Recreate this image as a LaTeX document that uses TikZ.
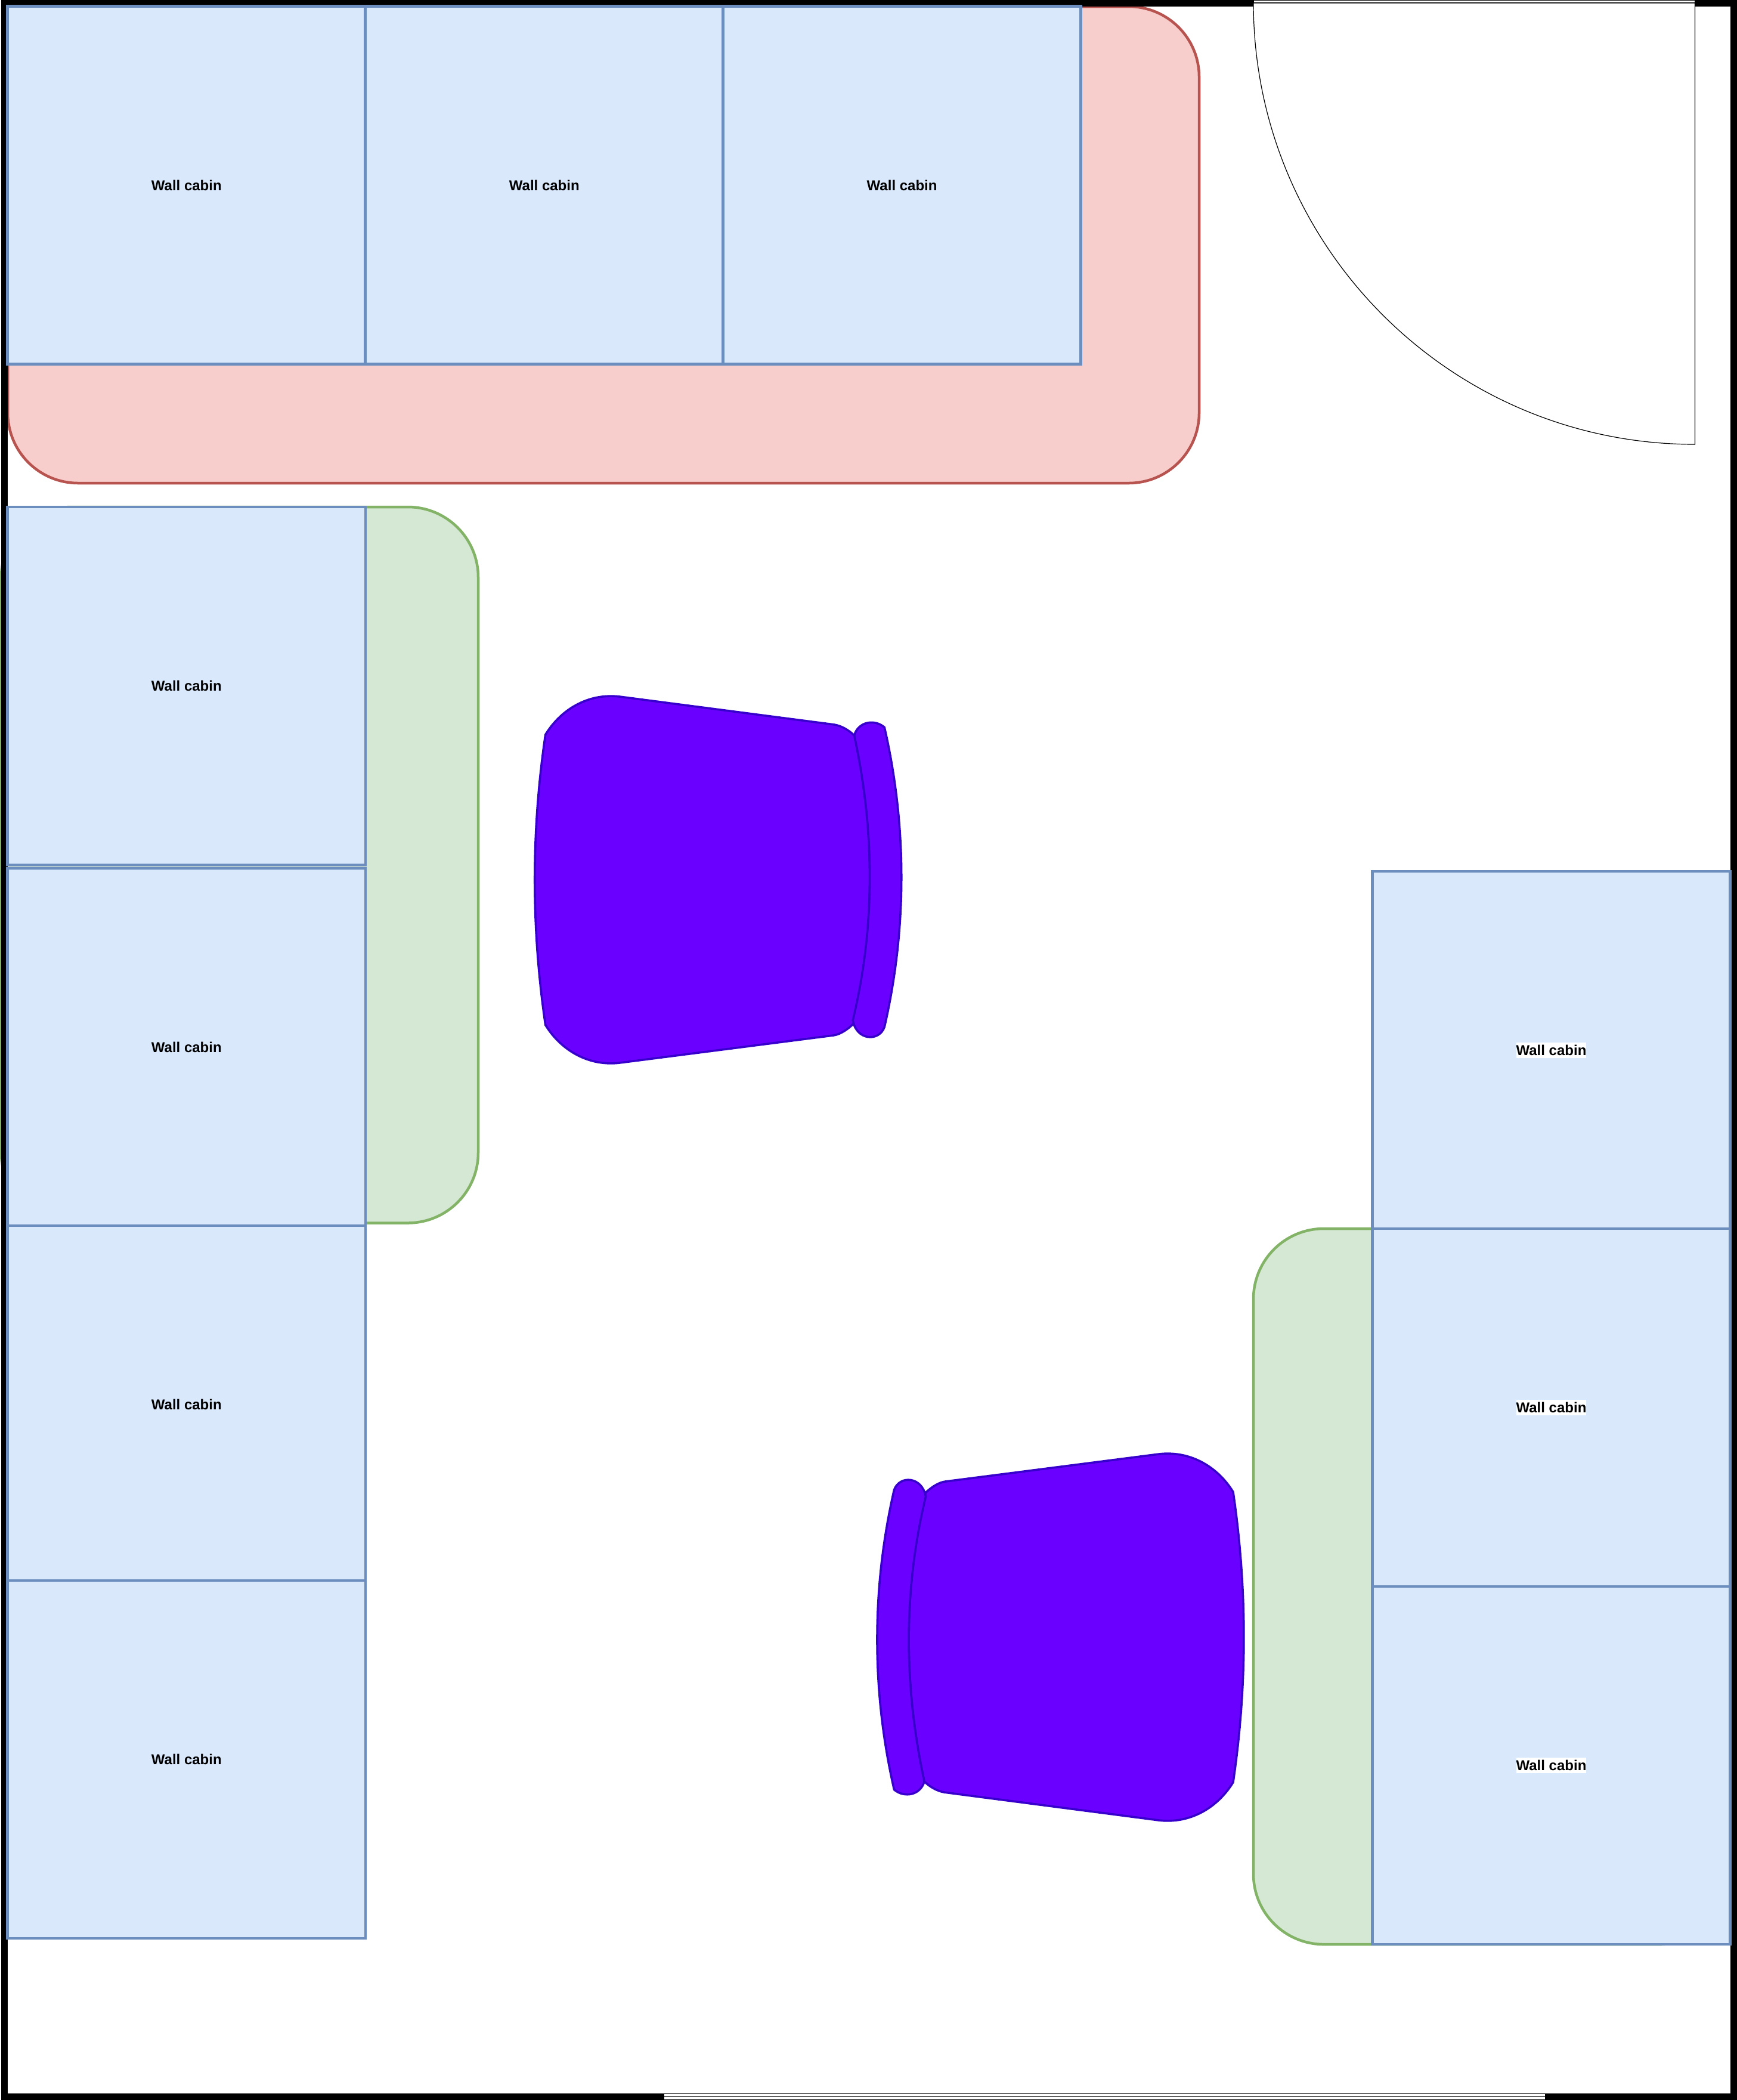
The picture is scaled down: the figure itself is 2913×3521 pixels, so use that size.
\documentclass[tikz,border=0pt]{standalone}
\usepackage{fontspec}
\setmainfont{Liberation Sans}
\definecolor{cabfill}{HTML}{DAE8FC}
\definecolor{cabline}{HTML}{6C8EBF}
\definecolor{deskfill}{HTML}{F8CECC}
\definecolor{deskline}{HTML}{B85450}
\definecolor{sidefill}{HTML}{D5E8D4}
\definecolor{sideline}{HTML}{82B366}
\definecolor{seatfill}{HTML}{6A00FF}
\definecolor{seatline}{HTML}{3700CC}
\newcommand{\wcab}{\rule[-4.7pt]{0pt}{26.7pt}Wall cabin}
\newcommand{\wcabw}{{\setlength{\fboxsep}{0pt}\colorbox{white}{\wcab}}}
\tikzset{
  wall/.style={draw=black, line width=11pt},
  thin/.style={draw=black, line width=1.2pt},
  cabin/.style={draw=cabline, fill=cabfill, line width=4.7pt, inner sep=0pt,
    minimum width=600.4pt, minimum height=600pt,
    font=\fontsize{24}{28}\selectfont\bfseries},
  desk/.style={draw=deskline, fill=deskfill, line width=4.5pt, rounded corners=118pt},
  side/.style={draw=sideline, fill=sidefill, line width=4.5pt, rounded corners=118pt},
  seat/.style={draw=seatline, fill=seatfill, line width=3.6pt, line join=round},
  armchair/.pic={
    \draw[seat] (-289.5,-243.2) .. controls (-262,-288) and (-215,-313) .. (-165,-307)
      -- (194,-260.2) .. controls (208,-258) and (220,-250) .. (228.4,-242)
      .. controls (263.5,-80) and (263.5,80) .. (226,242.5)
      .. controls (218,250) and (206,259) .. (194,260.9)
      -- (-165,307) .. controls (-215,313) and (-262,288) .. (-289.5,243.5)
      .. controls (-313.4,80) and (-313.4,-80) .. cycle;
    \draw[seat] (228.4,-242) .. controls (235,-265) and (262,-270) .. (279,-255.6)
      .. controls (317,-90) and (317,82) .. (279,247)
      .. controls (270,272) and (232,270) .. (226,235.6)
      .. controls (263.5,80) and (263.5,-80) .. cycle;
  },
}
\begin{document}
\begin{tikzpicture}[x=1pt,y=-1pt]
  \useasboundingbox (0,0) rectangle (2913,3521);
  \fill[white] (0,0) rectangle (2913,3521);
  % counters
  \draw[side] (2,850) rectangle (802,2050.5);
  \draw[side] (2102,2060) rectangle (2902,3260);
  \draw[desk] (13,11) rectangle (2011,810);
  % walls
  \draw[wall] (7.5,5.5) rectangle (2907.5,3515.5);
  % door
  \draw[thin,fill=white] (2102,0.5) rectangle (2842.5,5);
  \draw[thin,fill=white] (2102,5) -- (2842.5,5) -- (2842.5,745)
    arc[start angle=90,end angle=180,radius=740.5];
  % window
  \draw[thin,fill=white] (1113,3510.5) rectangle (2592,3520.5);
  \draw[thin] (1113,3515.5) -- (2592,3515.5);
  % chairs
  \pic at (1204.2,1475) {armchair};
  \pic[rotate=180] at (1778.5,2745) {armchair};
  % top row
  \node[cabin] (top1) at (312.8,310.5) {\wcab};
  \node[cabin] (top2) at (912.8,310.5) {\wcab};
  \node[cabin] (top3) at (1512.6,310.5) {\wcab};
  % left column
  \node[cabin] (left1) at (312.8,1150) {\wcab};
  \node[cabin] (left2) at (312.8,1755.5) {\wcab};
  \node[cabin] (left3) at (312.8,2355) {\wcab};
  \node[cabin] (left4) at (312.8,2950) {\wcab};
  % right column
  \node[cabin] (right1) at (2601.5,1761) {\wcabw};
  \node[cabin] (right2) at (2601.5,2360) {\wcabw};
  \node[cabin] (right3) at (2601.5,2960) {\wcabw};
\end{tikzpicture}
\end{document}
